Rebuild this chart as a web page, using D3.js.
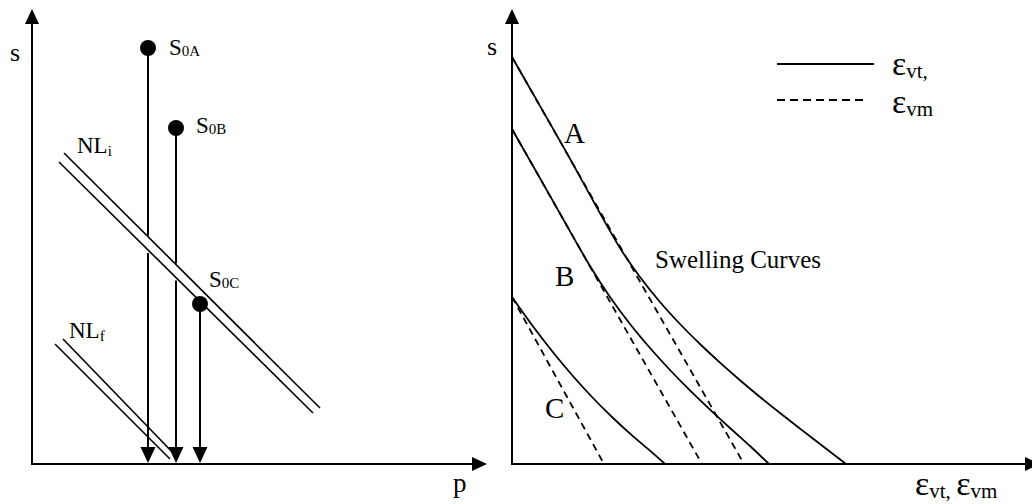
<!DOCTYPE html>
<html><head><meta charset="utf-8">
<script src="https://cdn.jsdelivr.net/npm/d3@7"></script>
<style>
body{margin:0;background:#fff}
svg{display:block}
text{font-family:"Liberation Serif","Times New Roman",serif;fill:#000}
</style>
</head><body>
<svg id="c" width="1032" height="504"></svg>
<script>
// ---------------- data (schematic units) ----------------
// Left panel: initial states and normal lines (p, s)
const stateNames = ["0A", "0B", "0C"];
const stateP = [29, 36, 42];
const stateS = [104, 84, 40];
const nliUpper = [[8, 77.75], [72, 14]];
const nliLower = [[6.75, 75.5], [70.25, 12.75]];
const nlfUpper = [[7.75, 31.25], [36.5, 1.5]];
const nlfLower = [[5.75, 30], [34.5, 1.25]];

// Right panel: swelling curves (strain, s)
const curveNames = ["A", "B", "C"];
const evtA = [[0,101.75],[13.5,78.1],[27,54],[32,46.75],[37,40.5],[42,35],[47,30],[52,25.35],[57,20.95],[62,16.75],[67,12.75],[72,8.85],[77,5],[83.5,0]];
const evtB = [[0,83.75],[9.75,66.6],[19.5,49.5],[24.5,41.75],[29.5,35],[34.5,29],[39.5,23.5],[44.5,18.4],[49.5,13.6],[54.5,9],[59.5,4.5],[64.25,0]];
const evtC = [[0,41.75],[5,34.75],[10,28.25],[15,22.25],[20,16.75],[25,11.75],[30,7.15],[35,2.9],[38.25,0]];
const evmA = [[0,101.75],[58,0]];
const evmB = [[0,83.75],[47.5,0]];
const evmC = [[0,41.75],[23,0]];

// ---------------- drawing ----------------
const svg = d3.select("#c");
const xL = d3.scaleLinear().domain([0,110]).range([32,472]);
const yL = d3.scaleLinear().domain([0,110]).range([464,24]);
const xR = d3.scaleLinear().domain([0,128.25]).range([512,1025]);
const yR = d3.scaleLinear().domain([0,110]).range([464,24]);

function arrow(x, y, dir, len, half) {
  let pts;
  if (dir === "up") pts = [[x,y],[x-half,y+len],[x+half,y+len]];
  else if (dir === "down") pts = [[x,y],[x-half,y-len],[x+half,y-len]];
  else pts = [[x,y],[x-len,y-half],[x-len,y+half]];
  svg.append("path").attr("d", "M" + pts.map(p=>p.join(",")).join("L") + "Z").attr("fill","#000");
}

function axes(xs, ys) {
  const x0 = xs.range()[0], x1 = xs.range()[1], y0 = ys.range()[0], y1 = ys.range()[1];
  svg.append("line").attr("x1",x0).attr("y1",y0).attr("x2",x0).attr("y2",y1)
    .attr("stroke","#000").attr("stroke-width",2);
  arrow(x0, y1-15, "up", 15, 7);
  svg.append("line").attr("x1",x0-1).attr("y1",y0).attr("x2",x1).attr("y2",y0)
    .attr("stroke","#000").attr("stroke-width",2);
  arrow(x1+15, y0, "right", 15, 7);
}
axes(xL, yL);
axes(xR, yR);

function rich(x, y, parts) {
  const t = svg.append("text").attr("x", x).attr("y", y);
  let prevDy = 0;
  parts.forEach(p => {
    const d = p.dy || 0;
    t.append("tspan").attr("dy", d - prevDy).attr("font-size", p.size).text(p.t);
    prevDy = d;
  });
  return t;
}

// Left panel
const segLine = (a, b) => svg.append("line")
  .attr("x1", xL(a[0])).attr("y1", yL(a[1])).attr("x2", xL(b[0])).attr("y2", yL(b[1]))
  .attr("stroke","#000").attr("stroke-width",1.6);
[nliUpper, nliLower, nlfUpper, nlfLower].forEach(l => segLine(l[0], l[1]));

function sAt(line, p) {
  const [a,b] = line;
  return a[1] + (p - a[0]) * (b[1]-a[1]) / (b[0]-a[0]);
}

stateP.forEach((p, i) => {
  const s = stateS[i];
  const x = xL(p);
  const tipY = yL(0) - 1;
  const baseY = tipY - 16;
  const up = sAt(nliUpper, p), lo = sAt(nliLower, p);
  const segs = [];
  if (s > up) {
    segs.push([yL(s), yL(up) - 1]);
    segs.push([yL(lo) + 3, baseY]);
  } else {
    segs.push([yL(s), baseY]);
  }
  segs.forEach(sg => svg.append("line").attr("x1",x).attr("x2",x).attr("y1",sg[0]).attr("y2",sg[1])
    .attr("stroke","#000").attr("stroke-width",2));
  arrow(x, tipY, "down", 16, 7.5);
  svg.append("circle").attr("cx", x).attr("cy", yL(s)).attr("r", 8).attr("fill","#000");
});

const stateLabelPos = [[169,55],[196,133],[209,287]];
stateNames.forEach((n,i) => rich(stateLabelPos[i][0], stateLabelPos[i][1],
  [{t:"S", size:23},{t:n, size:15, dy:1}]));
rich(77, 153, [{t:"NL", size:23},{t:"i", size:15, dy:3}]);
rich(69, 338, [{t:"NL", size:23},{t:"f", size:15, dy:3}]);
svg.append("text").attr("x",10).attr("y",61).attr("font-size",26).text("s");
svg.append("text").attr("x",453).attr("y",492).attr("font-size",27).text("p");

// Right panel
const lineR = d3.line().x(d => xR(d[0])).y(d => yR(d[1])).curve(d3.curveCatmullRom.alpha(0.5));
const lineStraight = d3.line().x(d => xR(d[0])).y(d => yR(d[1]));
[evtA, evtB, evtC].forEach(c => svg.append("path").attr("d", lineR(c))
  .attr("fill","none").attr("stroke","#000").attr("stroke-width",1.8));
[evmA, evmB, evmC].forEach(c => svg.append("path").attr("d", lineStraight(c))
  .attr("fill","none").attr("stroke","#000").attr("stroke-width",1.8).attr("stroke-dasharray","7,5"));

const curveLabelPos = [[564,143],[555,286],[545,418]];
curveNames.forEach((n,i) => svg.append("text").attr("x",curveLabelPos[i][0]).attr("y",curveLabelPos[i][1])
  .attr("font-size",29).text(n));
svg.append("text").attr("x",655).attr("y",268).attr("font-size",25).text("Swelling Curves");
svg.append("text").attr("x",487).attr("y",55).attr("font-size",26).text("s");

// legend
svg.append("line").attr("x1",777).attr("x2",874).attr("y1",64).attr("y2",64).attr("stroke","#000").attr("stroke-width",2);
svg.append("line").attr("x1",777).attr("x2",868).attr("y1",100).attr("y2",100).attr("stroke","#000").attr("stroke-width",2).attr("stroke-dasharray","8,5");
rich(892, 75, [{t:"ε", size:34},{t:"vt,", size:21, dy:3}]);
rich(892, 113, [{t:"ε", size:34},{t:"vm", size:21, dy:3}]);
rich(915, 495, [{t:"ε", size:34},{t:"vt, ", size:21, dy:3},{t:"ε", size:34, dy:0},{t:"vm", size:21, dy:3}]);
</script>
</body></html>
